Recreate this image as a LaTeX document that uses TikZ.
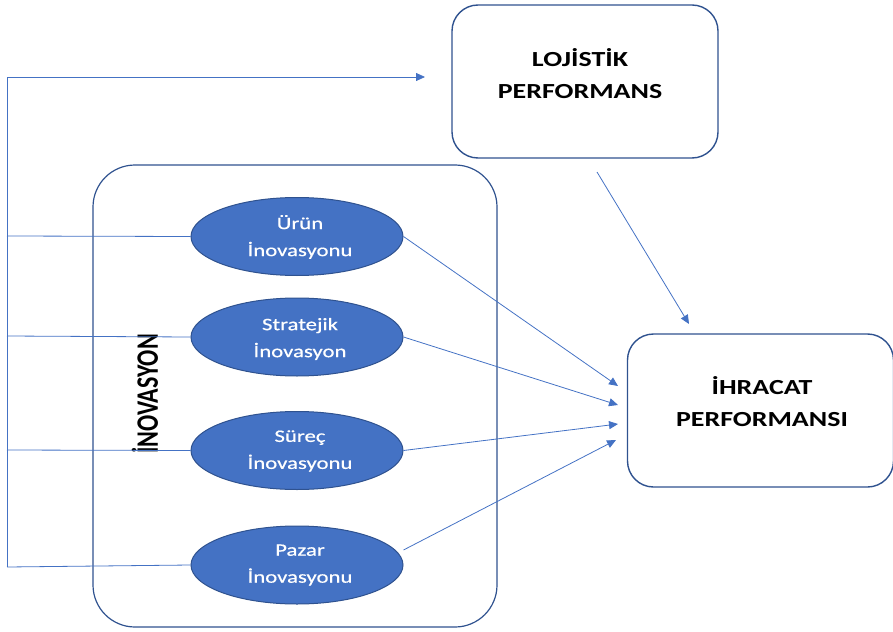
\documentclass[tikz,border=0pt]{standalone}
\usepackage{fontspec}
\setmainfont[FakeStretch=1.3]{Carlito}
\newfontfamily\plainfont{Carlito}
\newfontfamily\ellfont[FakeStretch=1.3,FakeBold=0.6]{Carlito}
\usetikzlibrary{arrows.meta,shapes.geometric}
\definecolor{lineblue}{HTML}{4472C4}
\definecolor{darkblue}{HTML}{2F528F}
\definecolor{fillblue}{HTML}{4472C4}
\tikzset{
  conn/.style={draw=lineblue, line width=0.8pt},
  arr/.style={conn, -{Triangle[length=9pt,width=8pt]}},
  bigbox/.style={draw=darkblue, line width=1.4pt, rounded corners=26pt, minimum width=266pt, minimum height=153pt},
  groupbox/.style={draw=darkblue, line width=1.2pt, rounded corners=42pt, minimum width=404pt, minimum height=462pt},
  innov/.style={ellipse, fill=fillblue, draw=darkblue, line width=1pt, minimum width=212pt, minimum height=78pt, inner sep=0pt},
  etext/.style={text=white, font=\ellfont\fontsize{17.5}{27}\selectfont, align=center},
  btext/.style={font=\bfseries\fontsize{21.5}{32}\selectfont, align=center},
}
\begin{document}
\begin{tikzpicture}[x=1pt,y=-1pt]
\useasboundingbox (0,0) rectangle (893,631);
% boxes
\node[bigbox] (lojbox) at (585,81.5) {};
\node[btext] (lojtext) at (580,74) {LOJİSTİK\\PERFORMANS};
\node[bigbox] (ihrbox) at (760.5,410.5) {};
\node[btext] (ihrtext) at (762,402) {İHRACAT\\PERFORMANSI};
\node[groupbox] (grp) at (295,396) {};
\node[rotate=90] (grplabel) at (145,394) {\scalebox{1}[1.3]{\plainfont\bfseries\fontsize{24}{28}\selectfont İNOVASYON}};
% ellipses
\node[innov] (e1) at (297,236.5) {};
\node[etext] (t1) at (300,237) {Ürün\\İnovasyonu};
\node[innov] (e2) at (297,337) {};
\node[etext] (t2) at (300,339) {Stratejik\\İnovasyon};
\node[innov] (e3) at (297,450.5) {};
\node[etext] (t3) at (300,451) {Süreç\\İnovasyonu};
\node[innov] (e4) at (297,565) {};
\node[etext] (t4) at (300,565) {Pazar\\İnovasyonu};
% left trunk
\coordinate (top) at (7,77);
\coordinate (bot) at (7,567);
\coordinate (lojin) at (425,77);
\draw[conn] (bot) -- (top);
\draw[arr] (top) -- (lojin);
\draw[conn] (7,236) -- (e1.west);
\draw[conn] (7,336) -- (e2.west);
\draw[conn] (7,450) -- (e3.west);
\draw[conn] (7,567) -- (e4.west);
% to ihracat
\coordinate (i1) at (618,386);
\coordinate (i2) at (618,405);
\coordinate (i3) at (618,424);
\coordinate (i4) at (616,440);
\draw[arr] (e1.east) -- (i1);
\draw[arr] (e2.east) -- (i2);
\draw[arr] (e3.east) -- (i3);
\draw[arr] (e4.east) ++(0,-15) -- (i4);
\coordinate (lojout) at (597,172);
\coordinate (ihrin) at (689,324);
\draw[arr] (lojout) -- (ihrin);
\end{tikzpicture}
\end{document}
